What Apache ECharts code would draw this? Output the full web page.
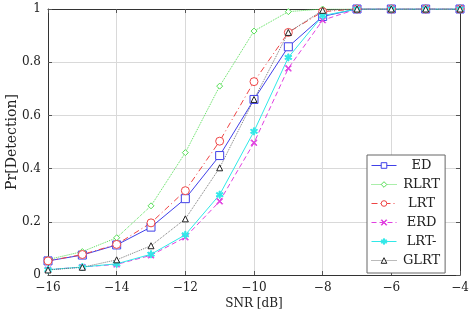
<!DOCTYPE html>
<html><head><meta charset="utf-8">
<script src="https://cdn.jsdelivr.net/npm/echarts@6/dist/echarts.min.js"></script>
<style>html,body{margin:0;padding:0;background:#fff}#c{width:469px;height:312px}</style>
</head><body><div id="c"></div>
<script>
const snr = [-16,-15,-14,-13,-12,-11,-10,-9,-8,-7,-6,-5,-4];
const ED   = [0.053,0.075,0.113,0.180,0.287,0.449,0.660,0.858,0.972,1,1,1,1];
const RLRT = [0.058,0.088,0.140,0.260,0.460,0.710,0.917,0.990,1.000,1,1,1,1];
const LRT  = [0.053,0.077,0.115,0.196,0.317,0.503,0.727,0.912,0.990,1,1,1,1];
const ERD  = [0.020,0.030,0.040,0.074,0.142,0.277,0.497,0.777,0.958,1,1,1,1];
const LRTm = [0.020,0.030,0.042,0.078,0.151,0.302,0.540,0.818,0.975,1,1,1,1];
const GLRT = [0.019,0.029,0.057,0.110,0.211,0.403,0.660,0.912,0.995,1,1,1,1];
const yTicks = [0,0.2,0.4,0.6,0.8,1];
const names = ['ED','RLRT','LRT','ERD','LRT-','GLRT'];

const FONT = 'DejaVu Serif';
const xPath = 'path://M0,1L1,0L5,4L9,0L10,1L6,5L10,9L9,10L5,6L1,10L0,9L4,5Z';
const starPath = 'path://M4.2,0H5.8V3.6L8.9,1.8L9.7,3.2L6.6,5L9.7,6.8L8.9,8.2L5.8,6.4V10H4.2V6.4L1.1,8.2L0.3,6.8L3.4,5L0.3,3.2L1.1,1.8L4.2,3.6Z';

function pairs(v){ return snr.map((x,i)=>[x,v[i]]); }
function mk(name, data, color, ltype, symbol, size, fill, lcolor){
  return {
    name, type:'line', data:pairs(data), symbol, symbolSize:size,
    lineStyle:{color:lcolor||color, width:1, type:ltype},
    itemStyle:{color: fill ? color : '#fff', borderColor:color, borderWidth:1},
    color: color, z: 3
  };
}
const chart = echarts.init(document.getElementById('c'), null, {renderer:'canvas'});
const minus = v => String(v).replace('-', '\u2212');
const axisCommon = {
  axisLine:{show:true, onZero:false, lineStyle:{color:'#333', width:1}},
  axisTick:{show:true, inside:true, length:4, lineStyle:{color:'#555'}},
};
chart.setOption({
  animation:false,
  textStyle:{fontFamily:FONT},
  grid:{left:48, right:9, top:9, bottom:37, containLabel:false, outerBoundsMode:'none'},
  xAxis:[
    Object.assign({type:'value', min:-16, max:-4, interval:2,
      axisLabel:{formatter:minus, fontFamily:FONT, fontSize:12, color:'#222', margin:7},
      splitLine:{show:true, lineStyle:{color:'#d9d9d9', width:1}},
      name:'SNR [dB]', nameLocation:'middle', nameGap:23, nameMoveOverlap:false,
      nameTextStyle:{fontFamily:FONT, fontSize:12, color:'#222'}}, axisCommon),
    Object.assign({type:'value', position:'top', min:-16, max:-4, interval:2,
      axisLabel:{show:false}, splitLine:{show:false}}, axisCommon)
  ],
  yAxis:[
    Object.assign({type:'value', min:0, max:1, interval:0.2,
      axisLabel:{formatter:v=>String(+v.toFixed(1)), fontFamily:FONT, fontSize:12, color:'#222', margin:7},
      splitLine:{show:true, lineStyle:{color:'#d9d9d9', width:1}},
      name:'Pr[Detection]', nameLocation:'middle', nameGap:29, nameRotate:90, nameMoveOverlap:false,
      nameTextStyle:{fontFamily:FONT, fontSize:14, color:'#222'}}, axisCommon),
    Object.assign({type:'value', position:'right', min:0, max:1, interval:0.2,
      axisLabel:{show:false}, splitLine:{show:false}}, axisCommon)
  ],
  legend:{
    orient:'vertical', left:367, top:155,
    backgroundColor:'#fff', borderColor:'#666', borderWidth:1,
    padding:[4,5,6,4], itemGap:6, itemWidth:25, itemHeight:7,
    lineStyle:{width:1}, itemStyle:{borderWidth:1},
    formatter: n => '{a|' + n + '}',
    textStyle:{fontFamily:FONT, fontSize:13, color:'#222',
      rich:{a:{width:40, align:'center', fontFamily:FONT, fontSize:13, color:'#222'}}},
    data:names
  },
  series:[
    mk(names[0], ED, '#4040e8', 'solid', 'rect', 8, false),
    mk(names[1], RLRT, '#55dd55', 'dotted', 'diamond', 6, false),
    mk(names[2], LRT, '#ee4444', [6,3,1,3], 'circle', 8, false),
    mk(names[3], ERD, '#e040e0', [5,3], xPath, 6, true),
    mk(names[4], LRTm, '#30e8e8', 'solid', starPath, 7, true),
    mk(names[5], GLRT, '#222222', 'dotted', 'triangle', 6, false, '#777')
  ]
});
</script></body></html>
